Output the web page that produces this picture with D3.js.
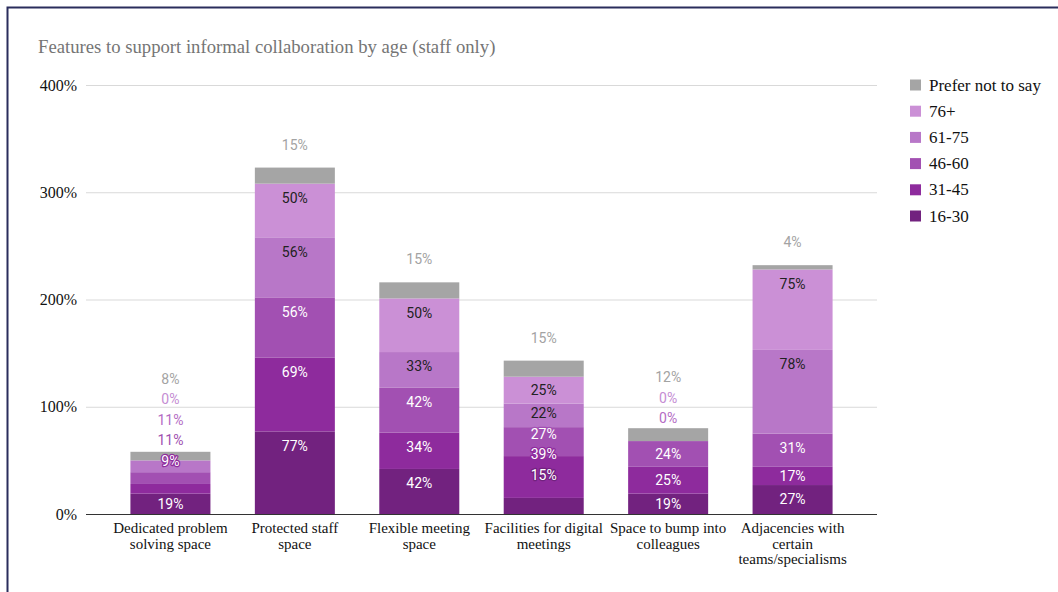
<!DOCTYPE html>
<html>
<head>
<meta charset="utf-8">
<script src="https://cdn.jsdelivr.net/npm/d3@7/dist/d3.min.js"></script>
<style>
  html, body { margin: 0; padding: 0; background: #fff; }
  svg { display: block; }
</style>
</head>
<body>
<svg id="chart" width="1058" height="592"></svg>
<script>
// Categories (line breaks mark where the axis labels wrap)
const categories = [
  "Dedicated problem\nsolving space",
  "Protected staff\nspace",
  "Flexible meeting\nspace",
  "Facilities for digital\nmeetings",
  "Space to bump into\ncolleagues",
  "Adjacencies with\ncertain\nteams/specialisms"
];

// Stack order, bottom to top
const seriesNames = ["16-30", "31-45", "46-60", "61-75", "76+", "Prefer not to say"];

// Percent of respondents per age group
const age16to30  = [19, 77, 42, 15, 19, 27];
const age31to45  = [9, 69, 34, 39, 25, 17];
const age46to60  = [11, 56, 42, 27, 24, 31];
const age61to75  = [11, 56, 33, 22, 0, 78];
const age76plus  = [0, 50, 50, 25, 0, 75];
const preferNot  = [8, 15, 15, 15, 12, 4];

const yTicks = [0, 100, 200, 300, 400];

const seriesValues = [age16to30, age31to45, age46to60, age61to75, age76plus, preferNot];
const colors = ["#72227f", "#8e2b9d", "#a250b2", "#b877c8", "#cb90d6", "#a5a5a5"];
const labelInk = ["#ffffff", "#ffffff", "#ffffff", "#222222", "#222222", "#a3a3a3"];
const outsideInk = ["#72227f", "#8e2b9d", "#a050b0", "#b46cc4", "#c58dd3", "#a3a3a3"];

const serif = "'Liberation Serif', 'Times New Roman', serif";
const sans = "Roboto, 'Noto Sans', Arial, sans-serif";

const svg = d3.select("#chart");

// Frame
svg.append("rect")
  .attr("x", 7.5).attr("y", 7.5)
  .attr("width", 1200).attr("height", 800)
  .attr("fill", "#fff")
  .attr("stroke", "#2a2d5c").attr("stroke-width", 2);

// Title
svg.append("text")
  .attr("x", 38).attr("y", 53)
  .attr("font-family", serif).attr("font-size", 18.7)
  .attr("fill", "#757575")
  .text("Features to support informal collaboration by age (staff only)");

const plotLeft = 86, plotRight = 877, plotTop = 85, plotBottom = 514;

const x = d3.scaleBand()
  .domain(categories)
  .range([plotLeft, plotRight])
  .padding(0.357);

const y = d3.scaleLinear()
  .domain([0, 400])
  .range([plotBottom, plotTop]);

// Gridlines and y-axis labels
const yAxis = d3.axisLeft(y)
  .tickValues(yTicks)
  .tickSize(-(plotRight - plotLeft))
  .tickPadding(9)
  .tickFormat(d => d + "%");

const gy = svg.append("g")
  .attr("transform", `translate(${plotLeft},0)`)
  .call(yAxis);
gy.select(".domain").remove();
gy.selectAll(".tick line")
  .attr("stroke", d => d === 0 ? "#333" : "#d9d9d9")
  .attr("stroke-width", 1);
gy.selectAll(".tick text")
  .attr("font-family", serif).attr("font-size", 16)
  .attr("fill", "#111");

// Stack the series
const rows = categories.map((c, i) => {
  const r = { category: c };
  seriesNames.forEach((s, k) => { r[s] = seriesValues[k][i]; });
  return r;
});
const stacked = d3.stack().keys(seriesNames)(rows);

const barsG = svg.append("g");
stacked.forEach((layer, k) => {
  barsG.selectAll(null)
    .data(layer)
    .join("rect")
    .attr("x", d => x(d.data.category))
    .attr("width", x.bandwidth())
    .attr("y", d => y(d[1]))
    .attr("height", d => y(d[0]) - y(d[1]))
    .attr("fill", colors[k]);
});

// Baseline over the bars
svg.append("line")
  .attr("x1", plotLeft).attr("x2", plotRight)
  .attr("y1", y(0) + 0.5).attr("y2", y(0) + 0.5)
  .attr("stroke", "#333");

// Value labels: inside the segment when it fits, otherwise pushed upward
const labelsG = svg.append("g")
  .attr("font-family", sans).attr("font-size", 14)
  .attr("text-anchor", "middle");

categories.forEach((c, i) => {
  const cx = x(c) + x.bandwidth() / 2;
  const barTop = y(stacked[stacked.length - 1][i][1]);
  let prevY = Infinity;
  stacked.forEach((layer, k) => {
    const d = layer[i];
    const y0 = y(d[0]), y1 = y(d[1]);
    const h = y0 - y1;
    const fits = k < seriesNames.length - 1 && h >= 17;
    const desired = fits ? y1 + Math.min(h / 2, 14.4) : y1 - 23;
    const ly = Math.min(desired, prevY - 20.5);
    prevY = ly;
    const displaced = !fits || Math.abs(ly - desired) > 3;
    const inside = ly > barTop + 2;
    const t = labelsG.append("text")
      .attr("x", cx).attr("y", ly)
      .attr("dominant-baseline", "central")
      .text(seriesValues[k][i] + "%");
    if (!displaced) {
      t.attr("fill", labelInk[k]);
    } else if (inside) {
      t.attr("fill", "#fff")
        .attr("stroke", colors[k]).attr("stroke-width", 2.5)
        .attr("paint-order", "stroke").attr("stroke-linejoin", "round");
    } else {
      t.attr("fill", outsideInk[k]);
    }
  });
});

// Category labels
const xLab = svg.append("g")
  .attr("font-family", serif).attr("font-size", 15)
  .attr("fill", "#111").attr("text-anchor", "middle");
categories.forEach(c => {
  const t = xLab.append("text")
    .attr("x", x(c) + x.bandwidth() / 2)
    .attr("y", 533);
  c.split("\n").forEach((line, j) => {
    t.append("tspan")
      .attr("x", x(c) + x.bandwidth() / 2)
      .attr("dy", j === 0 ? 0 : 15.5)
      .text(line);
  });
});

// Legend, top entry is the top of the stack
const legendOrder = seriesNames.map((s, k) => k).reverse();
const legend = svg.append("g");
legendOrder.forEach((k, j) => {
  const ly = 85 + j * 26.2;
  legend.append("rect")
    .attr("x", 910).attr("y", ly - 5.5)
    .attr("width", 11).attr("height", 11)
    .attr("fill", colors[k]);
  legend.append("text")
    .attr("x", 929).attr("y", ly)
    .attr("dominant-baseline", "central")
    .attr("font-family", serif).attr("font-size", 17)
    .attr("fill", "#111")
    .text(seriesNames[k]);
});
</script>
</body>
</html>
